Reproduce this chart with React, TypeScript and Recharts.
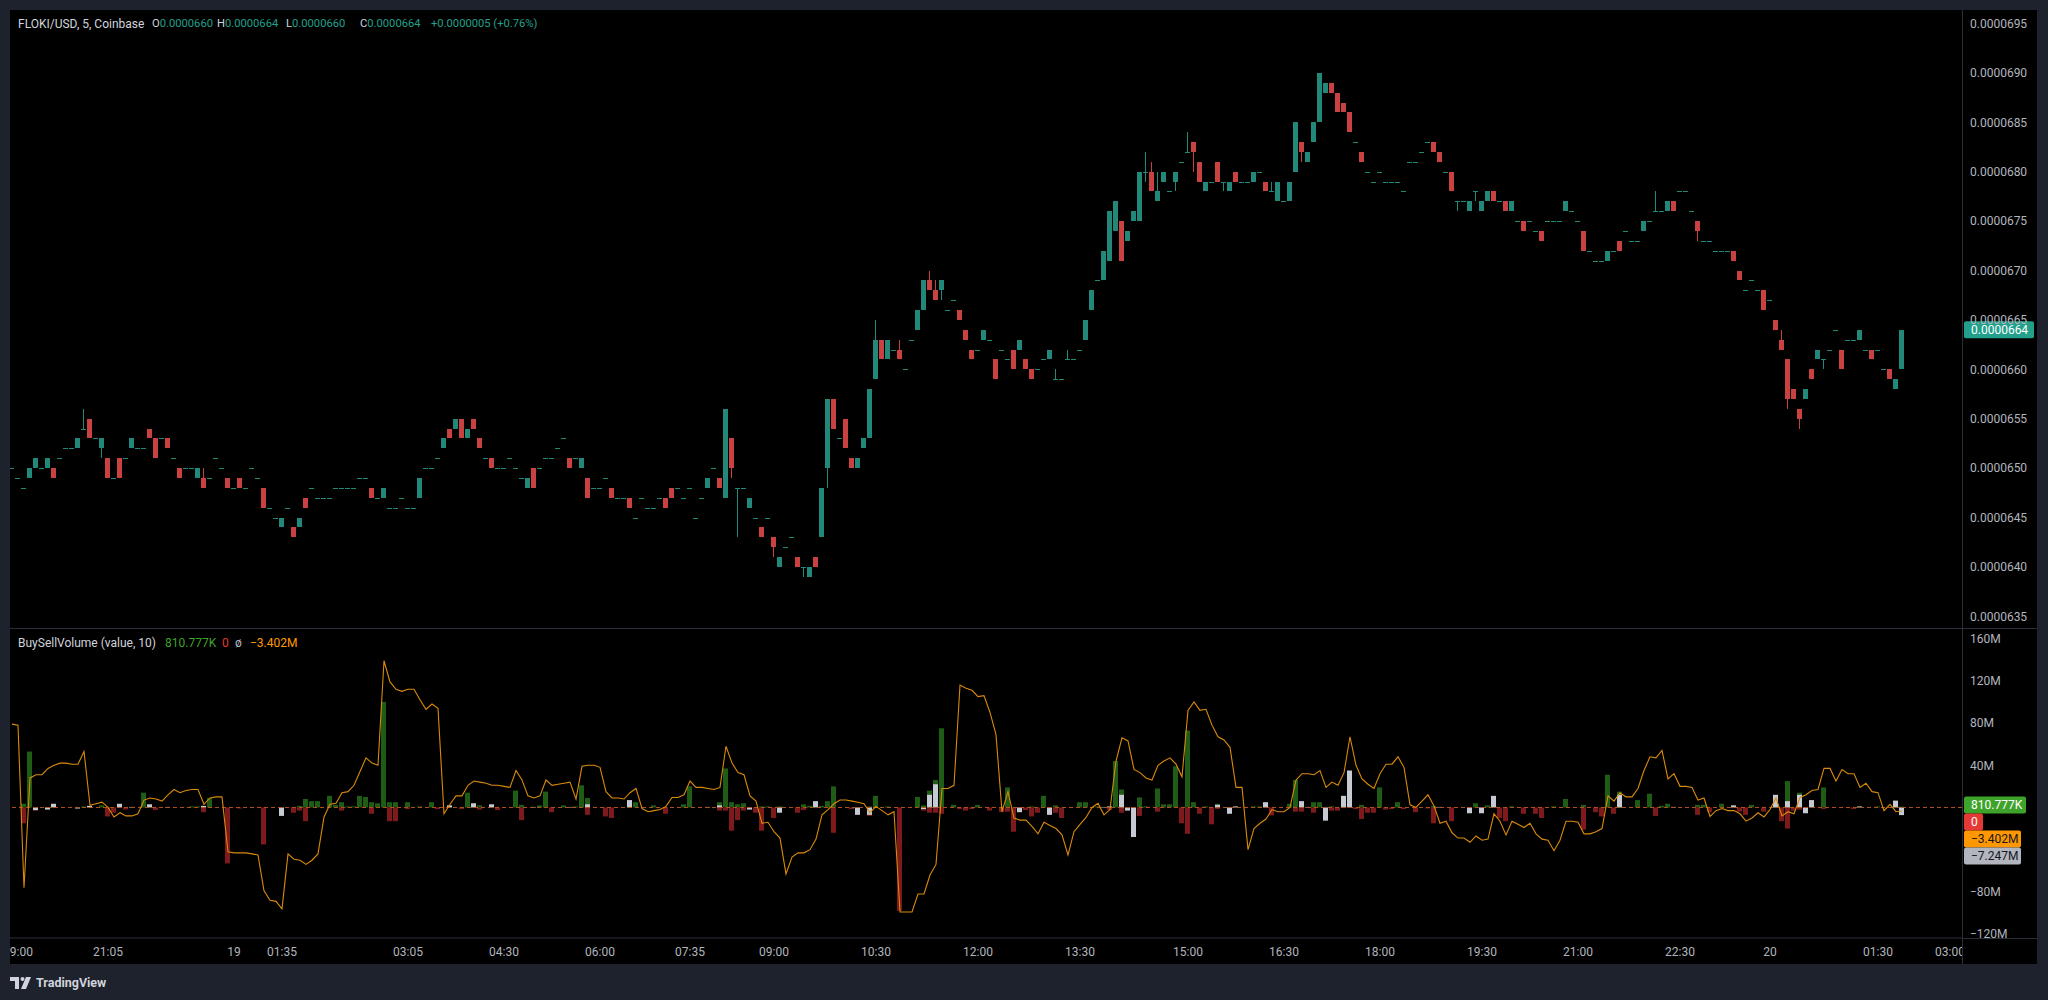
import React from "react";
import { ComposedChart, Bar, Line, XAxis, YAxis, ReferenceLine } from "recharts";

/** FLOKI/USD 5m candles, prices in units of 0.0000001 */
const opens = [
  650, 649, 648, 649, 650, 650, 650, 650, 651, 652,
  652, 652, 654, 655, 653, 652, 651, 649, 651, 651,
  652, 652, 652, 654, 653, 653, 653, 651, 650, 650,
  650, 649, 649, 649, 651, 650, 649, 648, 649, 648,
  650, 649, 648, 646, 645, 644, 646, 644, 644, 647,
  648, 647, 647, 647, 648, 648, 648, 648, 649, 649,
  648, 647, 647, 646, 646, 647, 646, 646, 647, 650,
  650, 651, 652, 654, 654, 655, 653, 655, 653, 651,
  651, 650, 650, 651, 650, 649, 648, 650, 650, 651,
  651, 652, 653, 651, 651, 650, 649, 648, 648, 649,
  648, 647, 647, 647, 645, 647, 646, 646, 647, 647,
  648, 648, 647, 648, 645, 647, 648, 650, 649, 647,
  653, 648, 648, 646, 645, 644, 645, 643, 640, 642,
  643, 641, 640, 639, 641, 643, 650, 657, 653, 655,
  651, 650, 652, 653, 659, 663, 661, 662, 662, 660,
  663, 664, 666, 669, 668, 668, 666, 667, 666, 664,
  662, 662, 663, 663, 661, 662, 661, 662, 662, 661,
  660, 660, 661, 661, 659, 659, 661, 661, 662, 663,
  666, 669, 669, 671, 674, 675, 673, 675, 675, 680,
  680, 677, 679, 678, 679, 681, 682, 683, 681, 678,
  679, 681, 679, 678, 680, 679, 679, 679, 680, 679,
  678, 677, 677, 677, 680, 683, 681, 683, 685, 688,
  689, 688, 687, 686, 683, 682, 680, 679, 680, 679,
  679, 679, 678, 681, 681, 682, 683, 683, 682, 680,
  680, 677, 677, 676, 678, 676, 677, 678, 677, 677,
  676, 675, 675, 675, 674, 674, 675, 675, 675, 676,
  676, 675, 674, 672, 671, 671, 671, 672, 673, 674,
  673, 673, 674, 675, 676, 676, 676, 677, 678, 678,
  676, 675, 673, 673, 672, 672, 672, 672, 670, 668,
  669, 668, 668, 667, 665, 663, 661, 658, 656, 657,
  660, 661, 661, 662, 664, 662, 663, 663, 663, 662,
  662, 662, 660, 660, 658, 660,
];

const highs = [
  650, 649, 648, 650, 651, 650, 651, 650, 651, 652,
  652, 653, 656, 655, 653, 653, 651, 649, 651, 651,
  653, 652, 652, 654, 653, 653, 653, 651, 650, 650,
  650, 650, 650, 649, 651, 650, 649, 648, 649, 648,
  650, 649, 648, 646, 645, 645, 646, 644, 645, 647,
  648, 647, 647, 647, 648, 648, 648, 648, 649, 649,
  648, 647, 648, 646, 646, 647, 646, 646, 649, 650,
  650, 651, 653, 654, 655, 655, 654, 655, 653, 651,
  651, 650, 650, 651, 650, 649, 649, 650, 650, 651,
  651, 652, 653, 651, 651, 651, 649, 648, 648, 649,
  648, 647, 647, 647, 645, 647, 646, 646, 647, 647,
  648, 648, 647, 648, 645, 647, 649, 650, 649, 656,
  653, 648, 648, 647, 645, 644, 645, 643, 641, 642,
  643, 641, 640, 640, 641, 648, 657, 657, 653, 655,
  651, 651, 653, 658, 665, 663, 663, 662, 663, 660,
  663, 666, 669, 670, 669, 669, 666, 667, 666, 664,
  662, 662, 664, 663, 661, 662, 661, 662, 663, 661,
  660, 660, 661, 662, 660, 659, 662, 661, 662, 665,
  668, 669, 672, 676, 677, 675, 674, 676, 680, 682,
  681, 680, 680, 678, 680, 681, 684, 683, 681, 679,
  679, 681, 679, 679, 680, 679, 679, 680, 680, 679,
  679, 679, 677, 679, 685, 683, 682, 685, 690, 689,
  689, 688, 687, 686, 683, 682, 680, 679, 680, 679,
  679, 679, 678, 681, 681, 682, 683, 683, 682, 680,
  680, 677, 677, 677, 678, 677, 678, 678, 677, 677,
  677, 675, 675, 675, 674, 674, 675, 675, 675, 677,
  676, 675, 674, 672, 671, 671, 672, 672, 673, 674,
  673, 673, 675, 675, 678, 676, 677, 677, 678, 678,
  676, 675, 673, 673, 672, 672, 672, 672, 670, 668,
  669, 668, 668, 667, 665, 664, 661, 658, 656, 658,
  660, 662, 661, 662, 664, 662, 663, 663, 664, 662,
  662, 662, 660, 660, 659, 664,
];

const lows = [
  650, 649, 648, 649, 650, 650, 650, 649, 651, 652,
  652, 652, 654, 653, 653, 651, 649, 649, 649, 651,
  652, 652, 652, 653, 651, 653, 652, 651, 649, 650,
  650, 649, 648, 649, 651, 650, 648, 648, 648, 648,
  650, 649, 646, 646, 645, 644, 646, 643, 644, 646,
  648, 647, 647, 647, 648, 648, 648, 648, 649, 649,
  647, 647, 647, 646, 646, 647, 646, 646, 647, 650,
  650, 651, 652, 653, 654, 653, 653, 654, 652, 651,
  650, 650, 650, 651, 650, 649, 648, 648, 650, 651,
  651, 652, 653, 650, 651, 650, 647, 648, 648, 649,
  647, 647, 647, 646, 645, 647, 646, 646, 647, 646,
  647, 648, 647, 648, 645, 647, 648, 650, 648, 647,
  649, 643, 648, 646, 645, 643, 645, 641, 640, 642,
  643, 640, 639, 639, 640, 643, 648, 654, 653, 652,
  650, 650, 652, 653, 659, 661, 661, 662, 661, 660,
  663, 664, 666, 668, 667, 667, 666, 667, 665, 663,
  661, 662, 663, 663, 659, 662, 661, 660, 662, 660,
  659, 660, 661, 661, 659, 659, 661, 661, 662, 663,
  666, 669, 669, 671, 674, 671, 673, 675, 675, 679,
  678, 677, 679, 678, 678, 681, 682, 680, 679, 678,
  679, 679, 678, 678, 679, 679, 679, 679, 680, 678,
  678, 677, 677, 677, 680, 681, 681, 683, 685, 688,
  688, 686, 686, 684, 683, 681, 680, 679, 680, 679,
  679, 679, 678, 681, 681, 682, 683, 682, 681, 680,
  678, 676, 677, 676, 677, 676, 677, 677, 677, 676,
  676, 675, 674, 675, 674, 673, 675, 675, 675, 676,
  676, 675, 672, 672, 671, 671, 671, 672, 672, 674,
  673, 673, 674, 675, 676, 676, 676, 676, 678, 678,
  676, 673, 673, 673, 672, 672, 672, 671, 669, 668,
  669, 668, 666, 667, 664, 662, 656, 657, 654, 657,
  659, 661, 660, 662, 664, 660, 663, 663, 663, 662,
  661, 662, 660, 659, 658, 660,
];

const closes = [
  650, 649, 648, 650, 651, 650, 651, 649, 651, 652,
  652, 653, 654, 653, 653, 653, 649, 649, 649, 651,
  653, 652, 652, 653, 651, 653, 652, 651, 649, 650,
  650, 650, 648, 649, 651, 650, 648, 648, 648, 648,
  650, 649, 646, 646, 645, 645, 646, 643, 645, 646,
  648, 647, 647, 647, 648, 648, 648, 648, 649, 649,
  647, 647, 648, 646, 646, 647, 646, 646, 649, 650,
  650, 651, 653, 653, 655, 653, 654, 654, 652, 651,
  650, 650, 650, 651, 650, 649, 649, 648, 650, 651,
  651, 652, 653, 650, 651, 651, 647, 648, 648, 649,
  647, 647, 647, 646, 645, 647, 646, 646, 647, 646,
  647, 648, 647, 648, 645, 647, 649, 650, 648, 656,
  650, 648, 648, 647, 645, 643, 645, 642, 641, 642,
  643, 640, 640, 640, 640, 648, 657, 654, 653, 652,
  650, 651, 653, 658, 663, 661, 663, 662, 661, 660,
  663, 666, 669, 668, 667, 669, 666, 667, 665, 663,
  661, 662, 664, 663, 659, 662, 661, 660, 663, 660,
  659, 660, 661, 662, 659, 659, 661, 661, 662, 665,
  668, 669, 672, 676, 677, 671, 674, 676, 680, 680,
  678, 678, 680, 678, 680, 681, 682, 682, 679, 679,
  679, 679, 679, 679, 679, 679, 679, 680, 680, 678,
  678, 679, 677, 679, 685, 682, 682, 685, 690, 689,
  688, 686, 686, 684, 683, 681, 680, 679, 680, 679,
  679, 679, 678, 681, 681, 682, 683, 682, 681, 680,
  678, 677, 677, 677, 678, 677, 678, 677, 677, 676,
  677, 675, 674, 675, 674, 673, 675, 675, 675, 677,
  676, 675, 672, 672, 671, 671, 672, 672, 672, 674,
  673, 673, 675, 675, 676, 676, 677, 676, 678, 678,
  676, 674, 673, 673, 672, 672, 672, 671, 669, 668,
  669, 668, 666, 667, 664, 662, 657, 657, 655, 658,
  659, 662, 661, 662, 664, 660, 663, 663, 664, 662,
  661, 662, 660, 659, 659, 664,
];

/** BuySellVolume average line (millions) */
const avgLine = [
  79, 78, -76, 28, 31, 31, 37, 40, 42, 42,
  41, 41, 53, 2, 3.5, 5, 0, -9, -5, -8,
  -8, -6, 7, 9, 8, 6, 12, 17, 14, 16,
  17, 17, 3, 9, 10, 10, -42, -43, -43, -43,
  -44, -45, -79, -88, -89, -96, -44, -49, -50, -54,
  -50, -44, -9, 3, 4, 14, 15, 21, 34, 47,
  42, 40, 139, 119, 112, 110, 112, 112, 102, 93,
  98, 94, -6, 3, 11, 11, 21, 25, 24, 23,
  21, 21, 20, 19, 35, 26, 11, 9, 11, 26,
  21, 22, 23, 24, 8, 39, 40, 40, 38, 15,
  9, 9, 8, 14, 18, -1, -4, -3, -2, 1,
  9.5, 9.5, 12, 25, 19, 19, 18, 17, 19, 58,
  42, 33, 31, 11, 6, -15, -14, -23, -29, -63,
  -47, -43, -43, -40, -30, -7, -2, 3.5, 7, 7,
  6, 5, 3.5, -5, 1, -3, -7, -4, -99, -99,
  -99, -82, -82, -64, -54, 18, 18, 21, 116, 113,
  111, 105, 106, 90, 69, -4, 15, -10, -12, -12,
  -18, -25, -14, -17, -20, -26, -45, -23, -16, -9.5,
  0, 4, -7, -2, 44, 66, 63, 36, 33, 28,
  26, 40, 44, 47, 41, 29, 92, 100, 92, 93,
  78, 67, 64, 57, 19, 19, -40, -20, -15, -11,
  -2, -4, -4, 0, 26, 32, 32, 31, 35, 19,
  24, 21, 33, 67, 40, 27, 22, 18, 32, 41,
  41, 48, 38, 2.5, 0, 6, 12, 1.5, -15, -13,
  -24, -29, -29, -33, -27, -31, -30, -6, -13, -26,
  -13, -16, -19, -15, -25, -30, -31, -41, -31, -13,
  -13, -14, -25, -25, -23, -20, 11, 6, 14, 10,
  10, 18, 35, 48, 47, 54, 27, 32, 20, 20,
  19, 7, 9, -8.5, -3, -1, -3, -3, -6, -13,
  -10, -5, -9, -2, 9, -8, -4, -6, 9.5, 12,
  16, 17, 37, 37, 25, 36, 32, 32, 19, 23,
  15, 14, -3, 3, -4, -3.402,
];

/** [bar index, millions] — bars not listed are 0 */
const buyVolume: [number, number][] = [
  [2, 3.5], [3, 53], [12, 1], [15, 2], [22, 14], [30, 1], [31, 1], [33, 9], [48, 1.5], [49, 8],
  [50, 6], [51, 6], [53, 11], [54, 2.5], [55, 5], [56, 1], [57, 1], [58, 11], [59, 10], [60, 5],
  [61, 4], [62, 100], [63, 5], [64, 5], [66, 5], [68, 1], [70, 5], [76, 14], [78, 2], [84, 16],
  [85, 2.5], [88, 2], [89, 15], [92, 2], [94, 1], [95, 21], [96, 9], [104, 5], [107, 2],
  [112, 3], [113, 20], [118, 5], [119, 37], [120, 5], [121, 3], [122, 4], [125, 1], [126, 1], [128, 1],
  [132, 3], [133, 1.5], [135, 1.5], [136, 6], [137, 20], [143, 1], [144, 11], [146, 1], [151, 10], [152, 2],
  [153, 16], [154, 26], [155, 75], [157, 2.5], [161, 2.5], [166, 19], [170, 1], [172, 11], [174, 2], [178, 5],
  [179, 5], [181, 1], [184, 44], [185, 17], [188, 9.5], [189, 1], [191, 18], [192, 3], [193, 3], [194, 39],
  [196, 73], [197, 5], [199, 1], [201, 3.5], [207, 1], [208, 1], [213, 3.5], [214, 26],
  [217, 5], [218, 5], [220, 1], [222, 11], [225, 2.5], [228, 19], [231, 5], [237, 1.5], [244, 4], [246, 2],
  [250, 1], [257, 1], [259, 8], [262, 2.5], [266, 31], [268, 15], [271, 7], [273, 13], [275, 1.5], [276, 3.5],
  [281, 2.5], [282, 2.5], [285, 3.5], [290, 2.5], [294, 11], [296, 25], [298, 14], [302, 19], [311, 1], [315, 0.811],
];

const sellVolume: [number, number][] = [
  [2, -15], [4, -3], [16, -8.5], [17, -5], [19, -2], [24, -2.5], [32, -4.5], [36, -53], [38, -1], [42, -35],
  [47, -5], [48, -3], [49, -13], [55, -3], [60, -6], [63, -13], [64, -13], [66, -1.5], [71, -1.5], [75, -1.5],
  [78, -2], [81, -2.5], [85, -12], [90, -4.5], [96, -7], [99, -8.5], [100, -10],
  [109, -6], [118, -3], [119, -3], [120, -22], [121, -12], [122, -3], [124, -5], [125, -22], [127, -10], [131, -5],
  [132, -2.5], [137, -24], [140, -1.5], [143, -8], [148, -98], [152, -3], [153, -5], [154, -5], [155, -6], [158, -1.5],
  [159, -3], [160, -1.5], [163, -3], [165, -4.5], [166, -4], [167, -23], [169, -2.5], [170, -8.5], [171, -5], [174, -5],
  [175, -10], [183, -2.5], [185, -5], [188, -8], [191, -4], [195, -15], [196, -25], [198, -6], [200, -16], [201, -1.5],
  [210, -7.5], [214, -4], [215, -4],
  [217, -5], [220, -3], [221, -3], [224, -1.5], [225, -11], [226, -5], [227, -5], [229, -2], [230, -1.5], [232, -1.5],
  [234, -4.5], [236, -1], [237, -15], [240, -13], [248, -10], [249, -13], [252, -6], [254, -6], [255, -10], [262, -21],
  [264, -4.5], [265, -8.5], [267, -6], [274, -8], [281, -7], [283, -4.5], [288, -4], [289, -7], [292, -4], [295, -13],
  [296, -20], [297, -3], [298, -2], [302, -1.5], [307, -1.5],
];

const netVolume: [number, number][] = [
  [4, -2.5], [6, -2], [7, 3.5], [11, -1], [13, 1.5], [18, 3.5], [20, 0.5], [23, 3], [26, 0.5], [32, 1.5],
  [45, -8], [73, 2], [77, 4], [80, 3], [87, 0.5], [93, 0.5], [96, 3], [103, 7],
  [116, 0.5], [118, 2], [123, -2], [128, -5], [134, 6], [141, -7], [143, -7], [152, -1.5], [153, 12], [154, 22],
  [168, -4.5], [173, -7], [182, 0.5], [183, 1], [185, 12], [186, -3], [187, -28], [201, 2.5], [203, -6], [204, 1],
  [209, 5], [215, 6], [216, 0.5],
  [219, -12.5], [222, 11], [223, 35], [238, 0.5], [243, -5.5], [245, -5.5], [247, 11], [268, 12], [277, 0.5], [287, 2],
  [294, 12], [296, 6], [298, 12], [299, -5.5], [300, 7], [308, 1], [314, 6.5], [315, -7.247],
];

const priceTicks = [635, 640, 645, 650, 655, 660, 665, 670, 675, 680, 685, 690, 695];
const volTicks = [-120, -80, 40, 80, 120, 160];
const timeTicks = [1, 16, 37, 45, 66, 82, 98, 113, 127, 144, 161, 178, 196, 212, 228, 245, 261, 278, 293, 311, 323];
const timeLabels = [
  "19:00", "21:05", "19", "01:35", "03:05", "04:30", "06:00", "07:35", "09:00", "10:30", "12:00",
  "13:30", "15:00", "16:30", "18:00", "19:30", "21:00", "22:30", "20", "01:30", "03:00",
];

const FONT = "Roboto, 'Noto Sans', sans-serif";
const AXIS_TEXT = "#b2b5be";
const BORDER = "#2a2e39";
const FRAME = "#1e222d";
const UP = "#22897a";
const DOWN = "#c94141";
const X_DOMAIN: [number, number] = [-1 / 3, 325];
const PRICE_DOMAIN: [number, number] = [633.82, 696.37];
const VOL_DOMAIN: [number, number] = [-123.7, 169.1];

const candles = opens.map((o, i) => ({
  i, o, h: highs[i], l: lows[i], c: closes[i], range: [lows[i], highs[i]] as [number, number],
}));

const volRows = avgLine.map((avg, i) => ({ i, avg, buy: 0, sell: 0, net: 0 }));
buyVolume.forEach(([i, v]) => (volRows[i].buy = v));
sellVolume.forEach(([i, v]) => (volRows[i].sell = v));
netVolume.forEach(([i, v]) => (volRows[i].net = v));

const last = candles[candles.length - 1];
const fmtPrice = (p: number) => (p / 1e7).toFixed(7);
const fmtVol = (v: number) => (v < 0 ? "\u2212" + Math.abs(v) : String(v)) + "M";
const fmtTime = (v: number) => timeLabels[timeTicks.indexOf(v)] ?? "";

function CandleShape(props: any) {
  const { x, y, width, height, payload } = props;
  if (x == null || y == null || !payload) return null;
  const { o, h, l, c } = payload;
  const color = c >= o ? UP : DOWN;
  const top = Math.min(y, y + height);
  const span = Math.abs(height);
  const k = h > l ? span / (h - l) : 0;
  const left = Math.round(x + width / 2 - 2.5);
  const yTop = Math.round(top);
  const yBot = Math.round(top + span);
  const bTop = Math.round(top + (h - Math.max(o, c)) * k);
  const bBot = Math.round(top + (h - Math.min(o, c)) * k);
  return (
    <g>
      {yBot > yTop && <rect x={left + 2} y={yTop} width={1} height={yBot - yTop} fill={color} />}
      <rect x={left} y={bTop} width={5} height={Math.max(1, bBot - bTop)} fill={color} />
    </g>
  );
}

function AxisTag({ viewBox, text, bg, fg, w, shift = 0 }: any) {
  if (!viewBox) return null;
  const x0 = viewBox.x + viewBox.width + 2;
  const yc = viewBox.y + shift;
  return (
    <g>
      <rect x={x0} y={yc - 8.5} width={w} height={17} rx={2} fill={bg} />
      <text x={x0 + 7} y={yc} dy="0.36em" fill={fg} fontSize={12} fontFamily={FONT}>
        {text}
      </text>
    </g>
  );
}

const abs = (left: number, top: number, extra: React.CSSProperties = {}): React.CSSProperties => ({
  position: "absolute", left, top, ...extra,
});

export default function App() {
  const axisTick = { fill: AXIS_TEXT, fontSize: 12, fontFamily: FONT };
  const legend: React.CSSProperties = { fontSize: 12, fontFamily: FONT, color: "#d1d4dc", whiteSpace: "nowrap", lineHeight: "14px" };
  const ohlc: React.CSSProperties = { ...legend, fontSize: 11.2 };
  const teal = "#22a08b";
  return (
    <div style={abs(0, 0, { width: 2048, height: 1000, background: FRAME, overflow: "hidden", fontFamily: FONT })}>
      <div style={abs(10, 10, { width: 2027, height: 954, background: "#000" })} />

      {/* price pane */}
      <div style={abs(10, 10, { width: 2027, height: 618, overflow: "hidden" })}>
        <ComposedChart width={2027} height={618} data={candles} margin={{ top: 0, right: 0, bottom: 0, left: 0 }}>
          <XAxis dataKey="i" type="number" domain={X_DOMAIN} allowDataOverflow hide />
          <YAxis
            orientation="right" width={75} domain={PRICE_DOMAIN} allowDataOverflow
            ticks={priceTicks} interval={0} tickFormatter={fmtPrice}
            axisLine={false} tickLine={false} tickSize={0} tickMargin={8} tick={axisTick}
          />
          <Bar dataKey="range" barSize={5} isAnimationActive={false} shape={(p: any) => <CandleShape {...p} />} />
          <ReferenceLine
            y={last.c} stroke="transparent"
            label={(p: any) => <AxisTag viewBox={p.viewBox} text={fmtPrice(last.c)} bg={teal} fg="#ffffff" w={70} />}
          />
        </ComposedChart>
      </div>

      {/* BuySellVolume pane */}
      <div style={abs(10, 629, { width: 2027, height: 335, overflow: "hidden" })}>
        <ComposedChart width={2027} height={335} data={volRows} margin={{ top: 0, right: 0, bottom: 0, left: 0 }}>
          <XAxis
            dataKey="i" type="number" domain={X_DOMAIN} allowDataOverflow height={26}
            ticks={timeTicks} interval={0} tickFormatter={fmtTime}
            axisLine={{ stroke: BORDER }} tickLine={false} tickSize={0} tickMargin={9} tick={axisTick}
          />
          <XAxis xAxisId="s" dataKey="i" type="number" domain={X_DOMAIN} allowDataOverflow hide />
          <XAxis xAxisId="g" dataKey="i" type="number" domain={X_DOMAIN} allowDataOverflow hide />
          <YAxis
            orientation="right" width={75} domain={VOL_DOMAIN} allowDataOverflow
            ticks={volTicks} interval={0} tickFormatter={fmtVol}
            axisLine={false} tickLine={false} tickSize={0} tickMargin={8} tick={axisTick}
          />
          <ReferenceLine y={0} stroke="#b3541e" strokeDasharray="4 3" strokeWidth={1} />
          <Bar dataKey="buy" barSize={5} fill="#1f5c16" isAnimationActive={false} />
          <Bar dataKey="sell" xAxisId="s" barSize={5} fill="#7e1a1c" isAnimationActive={false} />
          <Bar dataKey="net" xAxisId="g" barSize={5} fill="#c6cad3" isAnimationActive={false} />
          <Line dataKey="avg" type="linear" stroke="#d98a0a" strokeWidth={1.1} dot={false} isAnimationActive={false} />
          <ReferenceLine y={0.811} stroke="transparent"
            label={(p: any) => <AxisTag viewBox={p.viewBox} text="810.777K" bg="#3ea32a" fg="#ffffff" w={62} shift={-1.5} />} />
          <ReferenceLine y={0} stroke="transparent"
            label={(p: any) => <AxisTag viewBox={p.viewBox} text="0" bg="#e53935" fg="#ffffff" w={19} shift={14.6} />} />
          <ReferenceLine y={-3.402} stroke="transparent"
            label={(p: any) => <AxisTag viewBox={p.viewBox} text={"\u22123.402M"} bg="#ff9800" fg="#131722" w={57} shift={28} />} />
          <ReferenceLine y={-7.247} stroke="transparent"
            label={(p: any) => <AxisTag viewBox={p.viewBox} text={"\u22127.247M"} bg="#b2b5be" fg="#131722" w={57} shift={41} />} />
        </ComposedChart>
      </div>

      {/* axis corner + borders */}
      <div style={abs(1963, 939, { width: 74, height: 25, background: "#000" })} />
      <div style={abs(1962, 10, { width: 1, height: 954, background: BORDER })} />
      <div style={abs(10, 628, { width: 2027, height: 1, background: BORDER })} />
      <div style={abs(1962, 938, { width: 75, height: 1, background: BORDER })} />

      {/* main legend */}
      <div style={abs(18, 17, legend)}>FLOKI/USD, 5, Coinbase</div>
      <div style={abs(152, 17, ohlc)}>O<span style={{ color: teal }}>0.0000660</span></div>
      <div style={abs(217, 17, ohlc)}>H<span style={{ color: teal }}>0.0000664</span></div>
      <div style={abs(286, 17, ohlc)}>L<span style={{ color: teal }}>0.0000660</span></div>
      <div style={abs(360, 17, ohlc)}>C<span style={{ color: teal }}>0.0000664</span></div>
      <div style={abs(431, 17, { ...ohlc, color: teal })}>+0.0000005 (+0.76%)</div>

      {/* indicator legend */}
      <div style={abs(18, 636, legend)}>BuySellVolume (value, 10)</div>
      <div style={abs(165, 636, { ...legend, color: "#3ea32a" })}>810.777K</div>
      <div style={abs(222, 636, { ...legend, color: "#e53935" })}>0</div>
      <div style={abs(235, 636, { ...legend, color: AXIS_TEXT })}>ø</div>
      <div style={abs(250, 636, { ...legend, color: "#ff9800" })}>{"\u22123.402M"}</div>

      {/* logo */}
      <div style={abs(10, 975, { display: "flex", alignItems: "center", gap: 4, color: "#d1d4dc" })}>
        <svg width={22} height={12} viewBox="0 0 22 12">
          <path d="M0 0h9v12H5V4H0z" fill="#d1d4dc" />
          <circle cx={12.5} cy={2} r={2} fill="#d1d4dc" />
          <path d="M16 0h5l-5 12h-5z" fill="#d1d4dc" />
        </svg>
        <span style={{ fontSize: 12.5, fontWeight: 700, fontFamily: FONT }}>TradingView</span>
      </div>
    </div>
  );
}
